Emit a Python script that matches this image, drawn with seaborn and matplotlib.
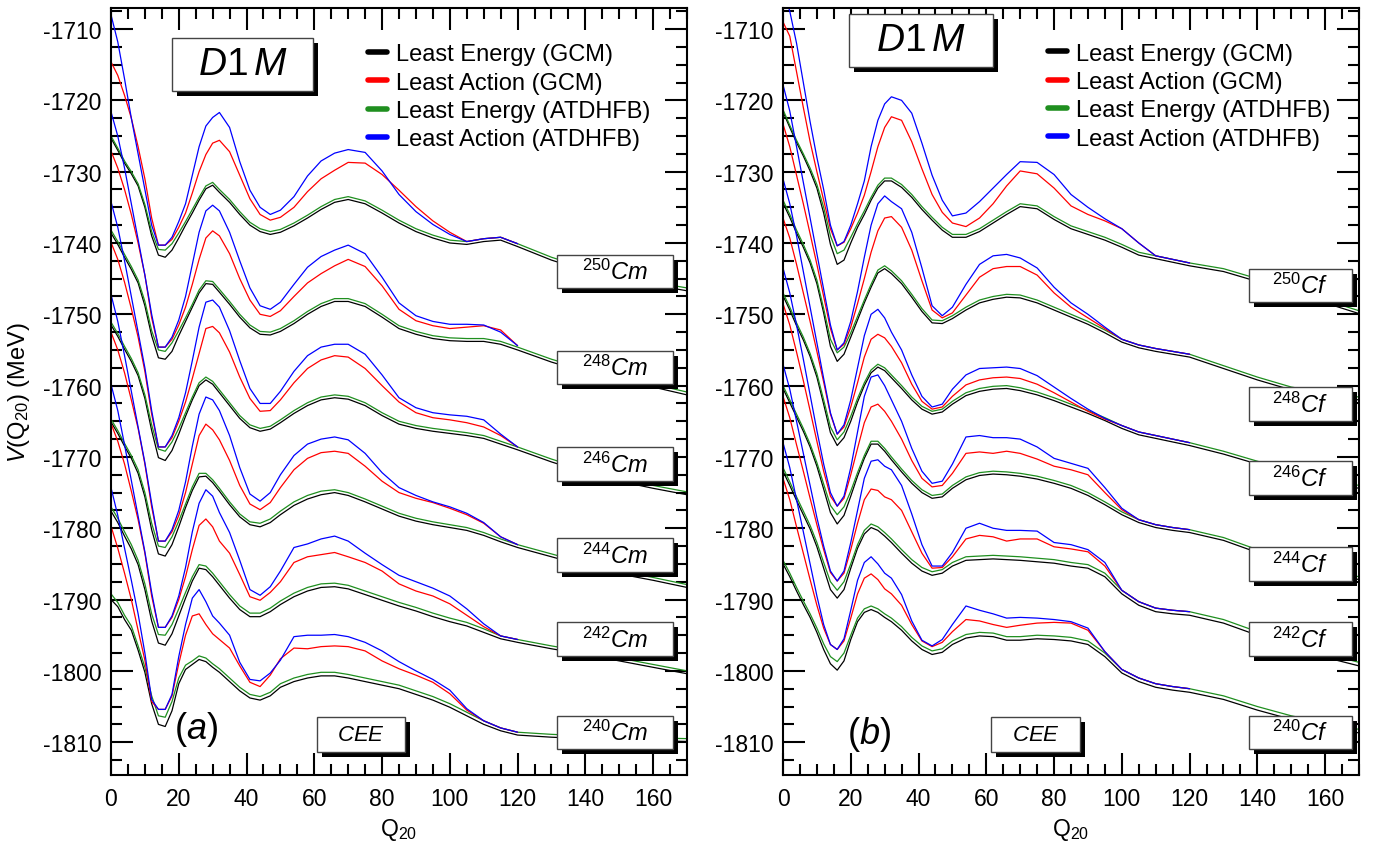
import matplotlib
matplotlib.use("Agg")
import matplotlib.pyplot as plt
from matplotlib.lines import Line2D
from matplotlib.patches import Rectangle
from matplotlib.ticker import MultipleLocator
import pandas as pd
import seaborn as sns

#Q20 grid shared by all curves (least action curves stop at 120, they sit on the least energy ones after that)
q20 = [0, 2, 4, 6, 8, 10, 12, 14, 16, 18, 20, 22, 24, 26, 28, 30, 32, 35, 38, 41, 44, 47, 50,
       54, 58, 62, 66, 70, 75, 80, 85, 90, 95, 100, 105, 110, 115, 120, 130, 140, 150, 160, 170]
q20_la = q20[:38]

#### Cm isotopes, panel (a) ####
cm250_le_gcm = [-1725.3,-1727.0,-1728.8,-1730.3,-1732.0,-1735.0,-1739.0,-1741.7,-1742.0,-1741.0,-1739.3,-1737.5,-1735.8,-1734.0,-1732.4,-1731.9,-1732.9,
                -1734.3,-1736.0,-1737.5,-1738.4,-1738.8,-1738.5,-1737.6,-1736.5,-1735.3,-1734.3,-1733.9,
                -1734.5,-1735.8,-1737.2,-1738.4,-1739.3,-1740.0,-1740.2,-1739.8,-1739.6,-1740.5,-1742.4,-1743.9,-1745.0,-1745.9,-1746.7]
cm250_le_atd = [-1725.0,-1726.7,-1728.5,-1730.0,-1731.7,-1734.6,-1738.4,-1740.9,-1741.0,-1740.1,-1738.6,-1737.0,-1735.3,-1733.6,-1732.0,-1731.5,-1732.5,
                -1733.9,-1735.6,-1737.1,-1738.0,-1738.4,-1738.1,-1737.2,-1736.1,-1734.9,-1733.9,-1733.5,
                -1734.1,-1735.4,-1736.8,-1738.0,-1738.9,-1739.6,-1739.8,-1739.4,-1739.2,-1740.1,-1742.0,-1743.5,-1744.6,-1745.5,-1746.3]
cm250_la_gcm = [-1714.6,-1716.5,-1719.3,-1722.5,-1726.5,-1731.0,-1736.5,-1740.3,-1740.3,-1739.5,-1737.8,-1735.8,-1733.0,-1730.0,-1727.6,-1726.0,-1725.6,
                -1727.2,-1730.5,-1733.8,-1736.0,-1736.8,-1736.4,-1735.0,-1732.8,-1731.0,-1729.8,-1728.7,
                -1728.8,-1730.4,-1732.6,-1734.9,-1736.9,-1738.5,-1739.8,-1739.4,-1739.2,-1740.1]
cm250_la_atd = [-1708.0,-1711.8,-1717.0,-1722.5,-1727.5,-1732.5,-1737.5,-1740.3,-1740.3,-1739.2,-1737.0,-1734.5,-1730.5,-1726.5,-1723.6,-1722.4,-1721.7,
                -1723.8,-1728.6,-1732.6,-1735.0,-1736.0,-1735.4,-1733.5,-1730.6,-1728.5,-1727.4,-1726.9,
                -1727.3,-1729.9,-1733.2,-1735.6,-1737.4,-1738.8,-1739.8,-1739.4,-1739.2,-1740.1]

cm248_le_gcm = [-1738.6,-1740.2,-1742.0,-1743.7,-1745.6,-1748.8,-1753.0,-1756.1,-1756.3,-1755.2,-1753.0,-1751.0,-1749.0,-1747.0,-1745.7,-1745.8,-1746.9,
                -1748.6,-1750.4,-1751.9,-1752.8,-1752.9,-1752.4,-1751.3,-1750.0,-1748.9,-1748.2,-1748.2,
                -1748.9,-1750.4,-1752.0,-1752.8,-1753.4,-1753.7,-1753.8,-1753.8,-1754.2,-1755.0,-1756.7,-1758.1,-1759.2,-1760.2,-1761.3]
cm248_le_atd = [-1738.2,-1739.8,-1741.6,-1743.3,-1745.2,-1748.2,-1752.3,-1755.0,-1755.2,-1754.0,-1752.3,-1750.5,-1748.6,-1746.6,-1745.3,-1745.4,-1746.5,
                -1748.2,-1750.0,-1751.5,-1752.4,-1752.5,-1752.0,-1750.9,-1749.6,-1748.5,-1747.8,-1747.8,
                -1748.5,-1750.0,-1751.6,-1752.4,-1753.0,-1753.3,-1753.4,-1753.4,-1753.8,-1754.6,-1756.3,-1757.7,-1758.8,-1759.8,-1760.9]
cm248_la_gcm = [-1727.1,-1729.5,-1732.5,-1736.0,-1740.0,-1744.5,-1750.5,-1754.6,-1754.6,-1753.5,-1751.5,-1749.0,-1745.8,-1742.3,-1739.3,-1738.3,-1739.0,
                -1741.5,-1745.0,-1748.0,-1750.0,-1750.3,-1749.5,-1747.5,-1745.6,-1744.3,-1743.2,-1742.3,
                -1743.3,-1746.0,-1749.3,-1750.9,-1751.6,-1752.0,-1751.8,-1751.6,-1752.2,-1754.4]
cm248_la_atd = [-1721.6,-1725.0,-1729.5,-1734.5,-1739.5,-1744.5,-1750.0,-1754.6,-1754.6,-1753.2,-1750.8,-1747.5,-1743.0,-1738.5,-1735.5,-1734.7,-1735.5,
                -1738.5,-1742.5,-1746.3,-1748.8,-1749.3,-1748.3,-1745.8,-1743.4,-1741.9,-1741.0,-1740.3,
                -1741.5,-1744.8,-1748.4,-1750.2,-1751.0,-1751.4,-1751.4,-1751.5,-1752.5,-1754.4]

cm246_le_gcm = [-1751.5,-1753.1,-1754.9,-1756.6,-1758.6,-1761.8,-1766.3,-1770.1,-1770.5,-1769.1,-1766.8,-1764.3,-1762.0,-1760.0,-1759.2,-1759.8,-1761.0,
                -1762.8,-1764.6,-1765.9,-1766.4,-1766.1,-1765.2,-1763.9,-1762.8,-1762.0,-1761.7,-1761.9,
                -1762.8,-1764.2,-1765.4,-1766.0,-1766.4,-1766.7,-1767.0,-1767.4,-1768.2,-1769.0,-1770.7,-1772.2,-1773.4,-1774.4,-1775.3]
cm246_le_atd = [-1751.1,-1752.7,-1754.5,-1756.2,-1758.2,-1761.3,-1765.5,-1768.9,-1769.2,-1767.9,-1766.0,-1763.8,-1761.6,-1759.6,-1758.8,-1759.4,-1760.6,
                -1762.4,-1764.2,-1765.5,-1766.0,-1765.7,-1764.8,-1763.5,-1762.4,-1761.6,-1761.3,-1761.5,
                -1762.4,-1763.8,-1765.0,-1765.6,-1766.0,-1766.3,-1766.6,-1767.0,-1767.8,-1768.6,-1770.3,-1771.8,-1773.0,-1774.0,-1774.9]
cm246_la_gcm = [-1739.9,-1742.3,-1745.5,-1749.2,-1753.2,-1758.0,-1764.0,-1768.6,-1768.6,-1767.3,-1765.0,-1762.3,-1759.0,-1755.5,-1752.0,-1751.7,-1752.6,
                -1755.3,-1758.8,-1761.8,-1763.6,-1763.5,-1762.0,-1759.6,-1757.6,-1756.4,-1755.8,-1756.0,
                -1757.6,-1760.0,-1762.3,-1763.8,-1764.5,-1764.8,-1765.2,-1765.8,-1767.0,-1768.6]
cm246_la_atd = [-1734.2,-1737.8,-1742.5,-1747.5,-1752.5,-1757.5,-1763.5,-1768.6,-1768.6,-1767.0,-1764.5,-1761.0,-1756.5,-1751.8,-1748.3,-1748.0,-1749.0,
                -1752.3,-1756.5,-1760.4,-1762.5,-1762.5,-1760.8,-1758.0,-1755.8,-1754.6,-1754.2,-1754.2,
                -1755.6,-1758.5,-1761.7,-1763.1,-1763.8,-1764.1,-1764.3,-1764.8,-1766.8,-1768.6]

cm244_le_gcm = [-1765.1,-1766.7,-1768.5,-1770.2,-1772.3,-1775.6,-1780.2,-1783.6,-1783.9,-1782.3,-1779.8,-1777.1,-1774.7,-1772.8,-1772.7,-1773.6,-1774.8,
                -1776.7,-1778.4,-1779.5,-1779.8,-1779.2,-1778.1,-1776.8,-1775.9,-1775.3,-1775.0,-1775.4,
                -1776.3,-1777.3,-1778.3,-1779.0,-1779.5,-1779.9,-1780.3,-1781.0,-1781.9,-1782.7,-1784.0,-1785.3,-1786.4,-1787.3,-1788.3]
cm244_le_atd = [-1764.7,-1766.3,-1768.1,-1769.8,-1771.8,-1775.0,-1779.3,-1782.5,-1782.7,-1781.2,-1779.0,-1776.6,-1774.2,-1772.3,-1772.3,-1773.2,-1774.4,
                -1776.3,-1778.0,-1779.1,-1779.3,-1778.7,-1777.6,-1776.3,-1775.4,-1774.8,-1774.6,-1775.0,
                -1775.9,-1776.9,-1777.9,-1778.6,-1779.1,-1779.5,-1779.9,-1780.6,-1781.5,-1782.3,-1783.6,-1784.9,-1786.0,-1786.9,-1787.9]
cm244_la_gcm = [-1752.5,-1755.0,-1758.2,-1762.0,-1766.0,-1771.0,-1777.0,-1781.8,-1781.8,-1780.5,-1778.2,-1775.0,-1771.0,-1767.0,-1765.4,-1766.2,-1767.6,
                -1770.5,-1774.0,-1776.6,-1777.4,-1776.4,-1774.3,-1771.8,-1770.2,-1769.4,-1769.2,-1769.5,
                -1771.3,-1773.4,-1775.0,-1775.8,-1776.4,-1777.2,-1778.1,-1779.3,-1781.2,-1782.3]
cm244_la_atd = [-1747.2,-1751.0,-1755.8,-1760.8,-1765.8,-1770.8,-1776.5,-1781.8,-1781.8,-1780.2,-1777.5,-1773.5,-1768.5,-1764.0,-1761.6,-1762.0,-1763.5,
                -1767.0,-1771.5,-1775.2,-1776.2,-1775.0,-1772.5,-1769.8,-1768.2,-1767.5,-1767.2,-1767.6,
                -1769.5,-1772.2,-1774.3,-1775.4,-1776.3,-1777.0,-1777.9,-1779.2,-1781.2,-1782.3]

cm242_le_gcm = [-1777.6,-1779.2,-1781.1,-1782.9,-1785.1,-1788.6,-1793.0,-1796.1,-1796.4,-1794.8,-1792.3,-1789.8,-1787.4,-1785.6,-1785.8,-1786.8,-1788.0,
                -1789.8,-1791.4,-1792.4,-1792.4,-1791.7,-1790.7,-1789.6,-1788.8,-1788.3,-1788.2,-1788.5,
                -1789.3,-1790.1,-1790.9,-1791.6,-1792.4,-1793.1,-1793.7,-1794.6,-1795.5,-1796.0,-1796.9,-1797.7,-1798.6,-1799.5,-1800.4]
cm242_le_atd = [-1777.0,-1778.6,-1780.5,-1782.3,-1784.5,-1787.8,-1792.0,-1794.9,-1795.0,-1793.5,-1791.3,-1789.0,-1786.8,-1785.1,-1785.3,-1786.3,-1787.5,
                -1789.3,-1790.9,-1791.9,-1791.9,-1791.2,-1790.2,-1789.1,-1788.3,-1787.8,-1787.7,-1788.0,
                -1788.8,-1789.6,-1790.4,-1791.1,-1791.9,-1792.6,-1793.2,-1794.1,-1795.1,-1795.6,-1796.5,-1797.3,-1798.2,-1799.1,-1800.0]
cm242_la_gcm = [-1765.3,-1767.8,-1771.0,-1774.8,-1778.8,-1783.5,-1789.5,-1793.9,-1793.9,-1792.5,-1790.0,-1786.8,-1783.0,-1779.6,-1778.7,-1779.8,-1781.8,
                -1783.5,-1786.5,-1789.6,-1790.1,-1789.0,-1787.5,-1784.8,-1784.0,-1783.7,-1783.4,-1784.0,
                -1784.8,-1786.0,-1787.8,-1788.8,-1789.5,-1790.6,-1792.2,-1793.8,-1795.1,-1795.6]
cm242_la_atd = [-1759.8,-1763.5,-1768.3,-1773.3,-1778.3,-1783.3,-1789.0,-1793.9,-1793.9,-1792.3,-1789.5,-1785.5,-1780.5,-1776.5,-1774.6,-1775.5,-1777.8,
                -1780.6,-1784.5,-1788.6,-1789.4,-1788.2,-1786.0,-1782.7,-1782.2,-1781.5,-1781.1,-1781.8,
                -1783.5,-1785.1,-1786.6,-1787.5,-1788.4,-1789.5,-1791.3,-1793.4,-1795.1,-1795.6]

cm240_le_gcm = [-1790.0,-1791.0,-1792.8,-1794.3,-1797.1,-1800.2,-1804.6,-1807.5,-1807.8,-1805.6,-1801.8,-1799.8,-1799.1,-1798.4,-1798.7,-1799.5,-1800.2,
                -1801.5,-1802.8,-1803.8,-1804.1,-1803.5,-1802.3,-1801.5,-1801.0,-1800.7,-1800.7,-1801.0,
                -1801.5,-1802.0,-1802.5,-1803.3,-1804.1,-1805.1,-1806.3,-1807.5,-1808.4,-1809.0,-1809.3,-1809.5,-1809.7,-1809.8,-1809.9]
cm240_le_atd = [-1789.2,-1790.4,-1792.2,-1793.7,-1796.5,-1799.5,-1803.5,-1806.3,-1806.5,-1804.3,-1801.0,-1799.2,-1798.6,-1797.9,-1798.2,-1799.0,-1799.7,
                -1801.0,-1802.3,-1803.3,-1803.6,-1803.0,-1801.8,-1801.0,-1800.5,-1800.2,-1800.2,-1800.5,
                -1801.0,-1801.5,-1802.0,-1802.8,-1803.6,-1804.6,-1805.8,-1807.0,-1808.0,-1808.6,-1808.9,-1809.1,-1809.3,-1809.4,-1809.5]
cm240_la_gcm = [-1779.7,-1782.8,-1786.3,-1790.0,-1794.3,-1798.5,-1804.3,-1805.4,-1805.4,-1803.5,-1799.0,-1795.0,-1792.3,-1792.0,-1793.5,-1794.8,-1795.6,
                -1796.8,-1799.3,-1801.6,-1802.2,-1800.6,-1798.3,-1796.8,-1796.9,-1796.6,-1796.5,-1796.6,
                -1797.2,-1798.6,-1799.7,-1800.6,-1801.6,-1803.2,-1805.5,-1807.0,-1808.0,-1808.6]
cm240_la_atd = [-1774.3,-1778.2,-1782.8,-1787.3,-1792.0,-1797.5,-1804.0,-1805.4,-1805.4,-1803.3,-1798.0,-1793.5,-1789.8,-1788.6,-1790.3,-1792.3,-1793.3,
                -1795.0,-1798.8,-1801.2,-1801.4,-1800.3,-1798.5,-1795.2,-1795.0,-1795.0,-1794.9,-1795.2,
                -1796.0,-1797.2,-1798.7,-1800.0,-1801.2,-1802.7,-1805.3,-1807.0,-1808.0,-1808.6]

#### Cf isotopes, panel (b) ####
cf250_le_gcm = [-1721.6,-1723.8,-1725.9,-1727.8,-1729.9,-1732.3,-1735.8,-1740.2,-1743.0,-1742.4,-1740.0,-1737.8,-1736.0,-1734.0,-1732.3,-1731.3,-1731.3,
                -1732.2,-1733.6,-1735.3,-1736.8,-1738.2,-1739.2,-1739.2,-1738.4,-1737.2,-1736.0,-1734.9,
                -1735.2,-1736.7,-1738.0,-1738.8,-1739.6,-1740.6,-1741.7,-1742.2,-1742.7,-1743.2,-1744.0,-1745.4,-1746.9,-1748.4,-1749.9]
cf250_le_atd = [-1721.3,-1723.5,-1725.6,-1727.5,-1729.5,-1731.8,-1735.0,-1739.0,-1741.5,-1741.0,-1739.2,-1737.3,-1735.5,-1733.6,-1731.9,-1730.9,-1730.9,
                -1731.8,-1733.2,-1734.9,-1736.4,-1737.8,-1738.8,-1738.8,-1738.0,-1736.8,-1735.6,-1734.5,
                -1734.8,-1736.3,-1737.6,-1738.4,-1739.2,-1740.2,-1741.3,-1741.8,-1742.3,-1742.8,-1743.6,-1745.0,-1746.5,-1748.0,-1749.5]
cf250_la_gcm = [-1709.0,-1711.0,-1716.0,-1721.0,-1725.8,-1730.0,-1734.0,-1738.0,-1740.4,-1739.9,-1738.0,-1735.8,-1733.3,-1730.0,-1726.5,-1723.8,-1722.3,
                -1722.8,-1725.8,-1729.6,-1733.2,-1735.7,-1737.2,-1737.7,-1736.5,-1734.5,-1732.0,-1729.9,
                -1730.3,-1732.3,-1734.8,-1736.0,-1736.9,-1738.0,-1740.0,-1741.8,-1742.3,-1742.8]
cf250_la_atd = [-1704.5,-1707.5,-1712.0,-1717.5,-1723.0,-1728.0,-1732.5,-1737.5,-1740.4,-1739.8,-1737.5,-1734.5,-1731.3,-1726.5,-1722.8,-1720.5,-1719.5,
                -1720.0,-1721.8,-1726.0,-1730.5,-1734.0,-1736.2,-1735.8,-1734.2,-1732.3,-1730.4,-1728.6,
                -1728.7,-1730.4,-1733.2,-1735.0,-1736.6,-1738.0,-1740.0,-1741.8,-1742.3,-1742.8]

cf248_le_gcm = [-1734.4,-1736.4,-1738.6,-1740.6,-1742.8,-1745.7,-1749.8,-1754.5,-1756.6,-1755.6,-1753.2,-1750.8,-1748.4,-1746.2,-1744.2,-1743.6,-1744.3,
                -1745.7,-1747.6,-1749.6,-1751.2,-1751.3,-1750.6,-1749.4,-1748.4,-1747.9,-1747.6,-1747.7,
                -1748.4,-1749.4,-1750.4,-1751.4,-1752.6,-1753.9,-1754.7,-1755.2,-1755.6,-1756.0,-1757.6,-1759.2,-1760.6,-1761.4,-1762.0]
cf248_le_atd = [-1734.0,-1736.0,-1738.2,-1740.2,-1742.4,-1745.2,-1749.2,-1753.5,-1755.4,-1754.6,-1752.6,-1750.3,-1748.0,-1745.8,-1743.8,-1743.2,-1743.9,
                -1745.3,-1747.2,-1749.2,-1750.8,-1750.9,-1750.2,-1749.0,-1748.0,-1747.5,-1747.2,-1747.3,
                -1748.0,-1749.0,-1750.0,-1751.0,-1752.2,-1753.5,-1754.3,-1754.8,-1755.2,-1755.6,-1757.2,-1758.8,-1760.2,-1761.0,-1761.6]
cf248_la_gcm = [-1723.3,-1726.5,-1730.5,-1734.5,-1738.7,-1743.0,-1747.5,-1752.0,-1755.0,-1754.2,-1751.8,-1748.5,-1745.0,-1741.3,-1738.3,-1736.5,-1736.3,
                -1737.8,-1741.0,-1745.3,-1749.4,-1750.5,-1749.8,-1747.3,-1744.8,-1743.6,-1743.3,-1743.3,
                -1744.5,-1747.0,-1749.0,-1750.5,-1752.0,-1753.5,-1754.3,-1754.8,-1755.2,-1755.6]
cf248_la_atd = [-1717.8,-1721.5,-1726.5,-1731.5,-1736.5,-1741.5,-1746.5,-1751.5,-1755.0,-1754.0,-1751.0,-1746.8,-1742.0,-1737.5,-1734.5,-1733.4,-1734.2,
                -1735.2,-1738.5,-1743.5,-1748.8,-1750.2,-1749.0,-1745.8,-1743.0,-1741.8,-1741.6,-1742.1,
                -1743.5,-1746.2,-1748.4,-1750.0,-1751.8,-1753.5,-1754.3,-1754.8,-1755.2,-1755.6]

cf246_le_gcm = [-1747.4,-1749.4,-1751.6,-1753.6,-1755.9,-1758.8,-1762.6,-1766.6,-1768.4,-1767.3,-1765.0,-1762.3,-1760.0,-1758.2,-1757.4,-1757.9,-1758.9,
                -1760.4,-1762.0,-1763.3,-1764.0,-1763.7,-1762.6,-1761.4,-1760.8,-1760.5,-1760.4,-1760.7,
                -1761.3,-1762.1,-1763.0,-1763.9,-1764.9,-1766.0,-1766.9,-1767.4,-1767.9,-1768.4,-1769.6,-1771.0,-1772.3,-1773.4,-1774.4]
cf246_le_atd = [-1747.0,-1749.0,-1751.2,-1753.2,-1755.5,-1758.3,-1762.0,-1765.8,-1767.6,-1766.5,-1764.3,-1761.8,-1759.6,-1757.8,-1757.0,-1757.5,-1758.5,
                -1760.0,-1761.6,-1762.9,-1763.6,-1763.3,-1762.2,-1761.0,-1760.4,-1760.1,-1760.0,-1760.3,
                -1760.9,-1761.7,-1762.6,-1763.5,-1764.5,-1765.6,-1766.5,-1767.0,-1767.5,-1768.0,-1769.2,-1770.6,-1771.9,-1773.0,-1774.0]
cf246_la_gcm = [-1736.5,-1739.3,-1743.0,-1747.0,-1751.0,-1755.2,-1759.5,-1764.0,-1766.8,-1765.8,-1763.0,-1759.6,-1756.0,-1753.5,-1752.8,-1753.3,-1754.5,
                -1756.8,-1759.8,-1762.2,-1763.3,-1763.0,-1761.5,-1759.9,-1759.2,-1758.9,-1758.8,-1759.0,
                -1759.8,-1761.0,-1762.3,-1763.6,-1764.7,-1765.6,-1766.5,-1767.0,-1767.5,-1768.0]
cf246_la_atd = [-1731.0,-1734.5,-1739.0,-1744.0,-1749.0,-1754.0,-1759.0,-1763.8,-1766.8,-1765.5,-1762.0,-1757.5,-1753.0,-1750.0,-1749.3,-1750.5,-1752.5,
                -1755.0,-1758.5,-1761.5,-1763.0,-1762.6,-1760.5,-1758.5,-1757.6,-1757.5,-1757.4,-1757.6,
                -1758.6,-1760.2,-1761.8,-1763.3,-1764.6,-1765.6,-1766.5,-1767.0,-1767.5,-1768.0]

cf244_le_gcm = [-1760.4,-1762.4,-1764.4,-1766.4,-1768.6,-1771.3,-1774.5,-1777.8,-1779.4,-1778.2,-1775.5,-1772.7,-1770.2,-1768.2,-1768.2,-1769.2,-1770.4,
                -1772.1,-1773.7,-1775.0,-1775.8,-1775.6,-1774.4,-1773.2,-1772.6,-1772.4,-1772.5,-1772.7,
                -1773.1,-1773.7,-1774.4,-1775.4,-1776.7,-1778.1,-1779.2,-1779.9,-1780.3,-1780.6,-1781.7,-1783.4,-1784.9,-1786.2,-1787.2]
cf244_le_atd = [-1760.0,-1762.0,-1764.0,-1766.0,-1768.2,-1770.8,-1773.8,-1776.8,-1778.1,-1777.0,-1774.8,-1772.2,-1769.8,-1767.8,-1767.8,-1768.8,-1770.0,
                -1771.7,-1773.3,-1774.6,-1775.4,-1775.2,-1774.0,-1772.8,-1772.2,-1772.0,-1772.1,-1772.3,
                -1772.7,-1773.3,-1774.0,-1775.0,-1776.3,-1777.7,-1778.8,-1779.5,-1779.9,-1780.2,-1781.3,-1783.0,-1784.5,-1785.8,-1786.8]
cf244_la_gcm = [-1748.5,-1751.5,-1755.3,-1759.3,-1763.5,-1767.8,-1772.0,-1775.5,-1776.9,-1775.8,-1772.5,-1768.8,-1765.2,-1763.0,-1762.6,-1763.6,-1765.0,
                -1767.5,-1770.5,-1773.0,-1774.2,-1774.0,-1772.3,-1769.5,-1769.3,-1769.5,-1769.2,-1769.5,
                -1770.3,-1771.3,-1771.8,-1772.5,-1775.0,-1777.4,-1778.8,-1779.5,-1779.9,-1780.2]
cf244_la_atd = [-1743.5,-1747.0,-1751.5,-1756.3,-1761.3,-1766.3,-1771.0,-1775.0,-1776.9,-1775.5,-1771.5,-1766.5,-1761.5,-1758.8,-1758.5,-1760.0,-1762.0,
                -1765.0,-1768.8,-1772.0,-1773.7,-1773.4,-1771.0,-1767.2,-1767.0,-1767.3,-1767.3,-1767.5,
                -1768.6,-1770.2,-1770.9,-1771.6,-1774.3,-1777.2,-1778.8,-1779.5,-1779.9,-1780.2]

cf242_le_gcm = [-1772.0,-1774.0,-1776.1,-1778.1,-1780.1,-1782.6,-1785.6,-1788.6,-1789.8,-1788.6,-1785.6,-1782.8,-1780.8,-1779.9,-1780.3,-1781.1,-1782.0,
                -1783.5,-1784.9,-1786.0,-1786.6,-1786.3,-1785.3,-1784.5,-1784.4,-1784.3,-1784.4,-1784.5,
                -1784.7,-1784.9,-1785.3,-1785.6,-1786.8,-1789.2,-1790.8,-1791.7,-1792.0,-1792.2,-1793.3,-1795.0,-1796.7,-1798.1,-1799.3]
cf242_le_atd = [-1771.5,-1773.5,-1775.6,-1777.6,-1779.6,-1782.0,-1784.8,-1787.5,-1788.7,-1787.5,-1785.0,-1782.3,-1780.3,-1779.4,-1779.8,-1780.6,-1781.5,
                -1783.0,-1784.4,-1785.5,-1786.1,-1785.8,-1784.8,-1784.0,-1783.9,-1783.8,-1783.9,-1784.0,
                -1784.2,-1784.4,-1784.8,-1785.1,-1786.3,-1788.7,-1790.3,-1791.2,-1791.5,-1791.7,-1792.8,-1794.5,-1796.2,-1797.6,-1798.8]
cf242_la_gcm = [-1761.5,-1764.5,-1768.3,-1772.0,-1775.8,-1779.5,-1783.0,-1786.2,-1787.4,-1786.3,-1783.0,-1779.3,-1776.0,-1774.5,-1774.7,-1775.6,-1776.0,
                -1777.5,-1780.5,-1783.5,-1785.6,-1785.5,-1784.0,-1781.5,-1781.0,-1781.2,-1781.8,-1781.5,
                -1781.5,-1782.6,-1782.9,-1783.3,-1785.3,-1788.7,-1790.3,-1791.2,-1791.5,-1791.7]
cf242_la_atd = [-1757.0,-1760.5,-1765.0,-1769.5,-1774.0,-1778.5,-1782.5,-1786.0,-1787.4,-1786.0,-1782.0,-1777.5,-1773.0,-1770.6,-1770.4,-1771.3,-1771.8,
                -1774.0,-1778.0,-1782.3,-1785.3,-1785.3,-1783.4,-1780.0,-1779.3,-1780.0,-1780.3,-1780.3,
                -1780.4,-1782.0,-1782.3,-1783.0,-1784.8,-1788.7,-1790.3,-1791.2,-1791.5,-1791.7]

cf240_le_gcm = [-1785.0,-1786.8,-1788.8,-1790.7,-1792.5,-1794.6,-1797.0,-1799.0,-1799.9,-1798.6,-1795.6,-1793.1,-1791.8,-1791.4,-1791.8,-1792.5,-1793.1,
                -1794.3,-1795.8,-1797.0,-1797.7,-1797.4,-1796.3,-1795.4,-1795.1,-1795.2,-1795.7,-1795.7,
                -1795.5,-1795.6,-1795.8,-1796.3,-1798.0,-1800.3,-1801.5,-1802.3,-1802.7,-1803.0,-1804.0,-1805.5,-1806.8,-1807.8,-1808.7]
cf240_le_atd = [-1784.5,-1786.3,-1788.3,-1790.2,-1792.0,-1794.0,-1796.2,-1798.0,-1798.7,-1797.5,-1795.0,-1792.6,-1791.3,-1790.9,-1791.3,-1792.0,-1792.6,
                -1793.8,-1795.3,-1796.5,-1797.2,-1796.9,-1795.8,-1794.9,-1794.6,-1794.7,-1795.2,-1795.2,
                -1795.0,-1795.1,-1795.3,-1795.8,-1797.5,-1799.8,-1801.0,-1801.8,-1802.2,-1802.5,-1803.5,-1805.0,-1806.3,-1807.3,-1808.2]
cf240_la_gcm = [-1773.0,-1776.0,-1779.8,-1783.5,-1787.2,-1790.8,-1794.0,-1796.3,-1797.0,-1795.8,-1792.6,-1789.2,-1787.0,-1786.4,-1787.2,-1788.5,-1789.2,
                -1790.8,-1793.5,-1795.8,-1796.6,-1796.0,-1794.5,-1792.8,-1793.0,-1793.5,-1793.9,-1793.6,
                -1793.3,-1793.2,-1793.3,-1794.3,-1797.3,-1799.8,-1801.0,-1801.8,-1802.2,-1802.5]
cf240_la_atd = [-1768.0,-1771.5,-1776.0,-1780.5,-1785.0,-1789.5,-1793.5,-1796.3,-1797.0,-1795.5,-1791.5,-1787.3,-1784.8,-1784.0,-1785.0,-1786.3,-1787.0,
                -1789.3,-1793.0,-1795.7,-1796.5,-1795.6,-1793.5,-1790.9,-1791.5,-1792.0,-1792.6,-1792.5,
                -1792.6,-1792.8,-1793.1,-1794.0,-1797.3,-1799.8,-1801.0,-1801.8,-1802.2,-1802.5]

isotopes = ["250", "248", "246", "244", "242", "240"]
methods = ["Least Energy (GCM)", "Least Action (GCM)", "Least Energy (ATDHFB)", "Least Action (ATDHFB)"]
colors = {"Least Energy (GCM)": "#000000", "Least Action (GCM)": "#ff0000",
          "Least Energy (ATDHFB)": "#1f8f1f", "Least Action (ATDHFB)": "#0000ff"}

cm_curves = {
    "250": (cm250_le_gcm, cm250_la_gcm, cm250_le_atd, cm250_la_atd),
    "248": (cm248_le_gcm, cm248_la_gcm, cm248_le_atd, cm248_la_atd),
    "246": (cm246_le_gcm, cm246_la_gcm, cm246_le_atd, cm246_la_atd),
    "244": (cm244_le_gcm, cm244_la_gcm, cm244_le_atd, cm244_la_atd),
    "242": (cm242_le_gcm, cm242_la_gcm, cm242_le_atd, cm242_la_atd),
    "240": (cm240_le_gcm, cm240_la_gcm, cm240_le_atd, cm240_la_atd),
}
cf_curves = {
    "250": (cf250_le_gcm, cf250_la_gcm, cf250_le_atd, cf250_la_atd),
    "248": (cf248_le_gcm, cf248_la_gcm, cf248_le_atd, cf248_la_atd),
    "246": (cf246_le_gcm, cf246_la_gcm, cf246_le_atd, cf246_la_atd),
    "244": (cf244_le_gcm, cf244_la_gcm, cf244_le_atd, cf244_la_atd),
    "242": (cf242_le_gcm, cf242_la_gcm, cf242_le_atd, cf242_la_atd),
    "240": (cf240_le_gcm, cf240_la_gcm, cf240_le_atd, cf240_la_atd),
}


#turn the per-isotope lists into one long dataframe for seaborn
def build_frame(curves):
    parts = []
    for iso in isotopes:
        for meth, vals in zip(methods, curves[iso]):
            q = q20 if "Energy" in meth else q20_la
            parts.append(pd.DataFrame({"Q20": q, "V": vals, "iso": iso, "method": meth}))
    return pd.concat(parts, ignore_index=True)


#white box with a black drop shadow, coordinates in axes fraction
def shadow_box(ax, x0, y0, x1, y1, text, size):
    dx, dy = 5 / 576, 5 / 767
    ax.add_patch(Rectangle((x0 + dx, y0 - dy), x1 - x0, y1 - y0, transform=ax.transAxes,
                           facecolor="black", edgecolor="none", zorder=5, clip_on=False))
    ax.add_patch(Rectangle((x0, y0), x1 - x0, y1 - y0, transform=ax.transAxes,
                           facecolor="white", edgecolor="#444444", linewidth=1.0, zorder=6, clip_on=False))
    ax.text((x0 + x1) / 2, (y0 + y1) / 2, text, transform=ax.transAxes, ha="center", va="center",
            fontsize=size, zorder=7)


sns.set_theme(style="ticks", rc={"text.color": "black", "axes.labelcolor": "black",
                                 "xtick.color": "black", "ytick.color": "black",
                                 "axes.edgecolor": "black"})
plt.rcParams["font.family"] = ["Liberation Sans", "DejaVu Sans"]
plt.rcParams["mathtext.fontset"] = "custom"
plt.rcParams["mathtext.rm"] = "Liberation Sans"
plt.rcParams["mathtext.it"] = "Liberation Sans:italic"
plt.rcParams["mathtext.bf"] = "Liberation Sans:bold"
plt.rcParams["axes.unicode_minus"] = False

fig = plt.figure(figsize=(13.74, 8.45), dpi=100)
ax_a = fig.add_axes([111 / 1374, 69 / 845, 576 / 1374, 767 / 845])
ax_b = fig.add_axes([783 / 1374, 69 / 845, 576 / 1374, 767 / 845])

#hue order = draw order, least action drawn over least energy
draw_order = ["Least Energy (GCM)", "Least Energy (ATDHFB)", "Least Action (GCM)", "Least Action (ATDHFB)"]

#isotope label boxes (y ranges in axes fraction)
cm_box_y = {"250": (0.6349, 0.6780), "248": (0.5098, 0.5528), "246": (0.3833, 0.4276),
            "244": (0.2647, 0.3090), "242": (0.1551, 0.1995), "240": (0.0339, 0.0769)}
cf_box_y = {"250": (0.6167, 0.6597), "248": (0.4615, 0.5059), "246": (0.3651, 0.4094),
            "244": (0.2529, 0.2973), "242": (0.1551, 0.1995), "240": (0.0339, 0.0769)}

setups = [
    (ax_a, cm_curves, "Cm", cm_box_y, (0.7743, 0.9757), (0.1059, 0.8918, 0.3507, 0.9609),
     (0.3576, 0.5104), (0.1476, 0.060), "a", (0.446, 0.954)),
    (ax_b, cf_curves, "Cf", cf_box_y, (0.8090, 0.9878), (0.1146, 0.9231, 0.3646, 0.9922),
     (0.3611, 0.5156), (0.1493, 0.0535), "b", (0.460, 0.955)),
]

for ax, curves, elem, box_y, box_x, d1m, cee_x, tag_xy, tag, leg_xy in setups:
    df = build_frame(curves)
    sns.lineplot(data=df, x="Q20", y="V", hue="method", units="iso", estimator=None, sort=False,
                 hue_order=draw_order, palette=colors, linewidth=0.9, legend=False, ax=ax)

    ax.set_xlim(0, 170)
    ax.set_ylim(-1814.6, -1707.05)
    ax.xaxis.set_major_locator(MultipleLocator(20))
    ax.xaxis.set_minor_locator(MultipleLocator(5))
    ax.yaxis.set_major_locator(MultipleLocator(10))
    ax.yaxis.set_minor_locator(MultipleLocator(2.5))
    ax.tick_params(which="both", direction="in", top=True, right=True, width=1.5, labelsize=16.5,
                   color="black", labelcolor="black")
    ax.tick_params(which="major", length=16)
    ax.tick_params(which="minor", length=8)
    ax.tick_params(axis="x", which="major", pad=9)
    ax.tick_params(axis="y", which="major", pad=7)
    for sp in ax.spines.values():
        sp.set_linewidth(1.5)
        sp.set_color("black")
    ax.set_xlabel("Q$_{20}$", fontsize=16.5, labelpad=4)
    ax.set_ylabel("")

    #legend with short thick handles
    handles = [Line2D([], [], color=colors[m], linewidth=4) for m in methods]
    ax.legend(handles, methods, loc="upper left", bbox_to_anchor=leg_xy, frameon=False, fontsize=17,
              handlelength=0.8, handletextpad=0.4, labelspacing=0.27, borderpad=0, borderaxespad=0)

    #text boxes
    shadow_box(ax, d1m[0], d1m[1], d1m[2], d1m[3], r"$\mathit{D}1\,\mathit{M}$", 28)
    for iso in isotopes:
        y0, y1 = box_y[iso]
        shadow_box(ax, box_x[0], y0, box_x[1], y1, r"$^{%s}\mathit{%s}$" % (iso, elem), 17)
    shadow_box(ax, cee_x[0], 0.0300, cee_x[1], 0.0756, r"$\mathit{CEE}$", 16)
    ax.text(tag_xy[0], tag_xy[1], r"($\mathit{%s}$)" % tag, transform=ax.transAxes,
            ha="center", va="center", fontsize=26)

ax_a.set_ylabel(r"$\mathit{V}$(Q$_{20}$) (MeV)", fontsize=17, labelpad=8)

fig.savefig("out.png", dpi=100)
